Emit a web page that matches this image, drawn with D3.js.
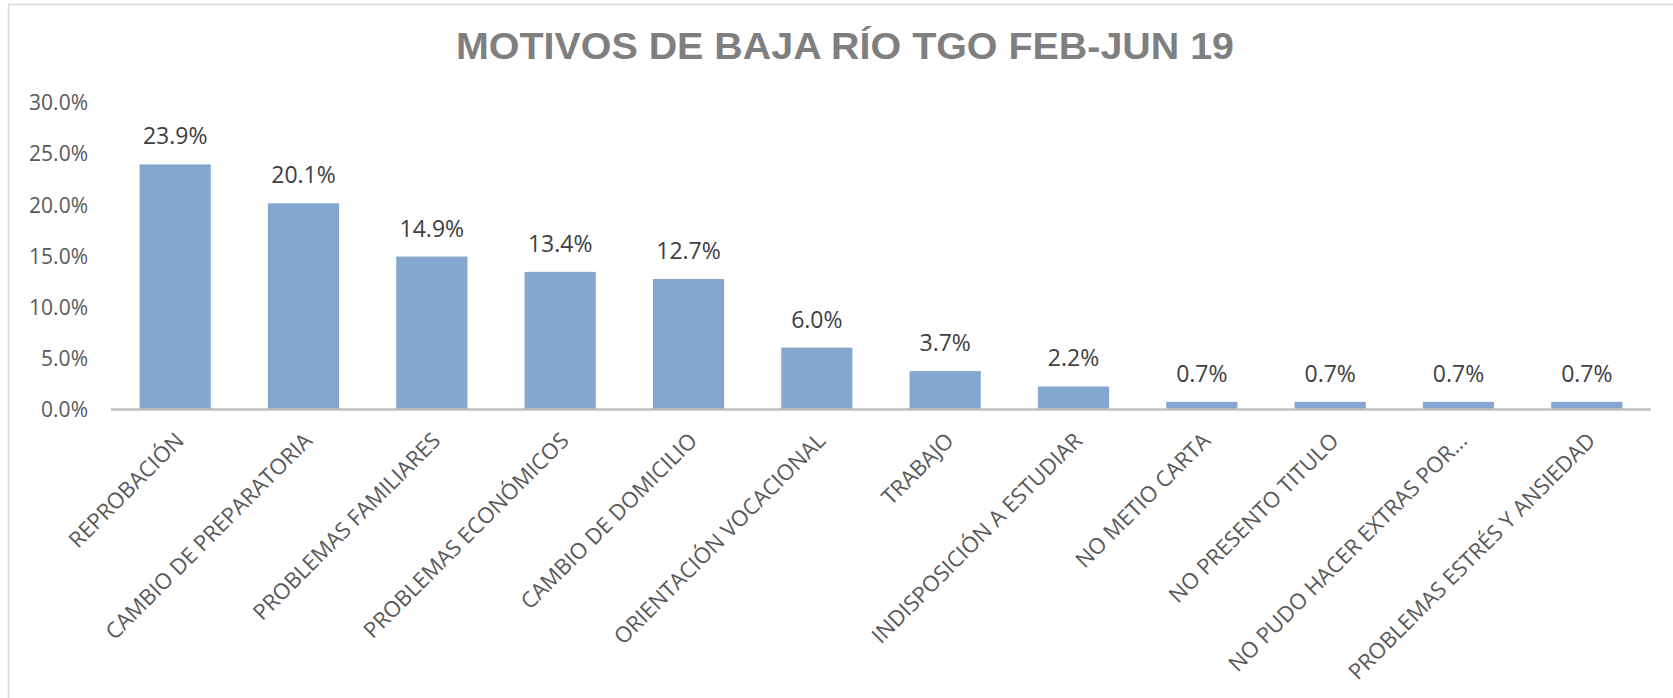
<!DOCTYPE html>
<html lang="es">
   <head>
      <meta charset="UTF-8">
      <title>Motivos de baja</title>
      <script src="https://d3js.org/d3.v7.min.js"></script>
      <style>
         body { margin: 0; background: #fff; }
      </style>
   </head>
   <body>
      <div id="my_dataviz"></div>
      <script>
         var categories = ["REPROBACIÓN", "CAMBIO DE PREPARATORIA", "PROBLEMAS FAMILIARES",
            "PROBLEMAS ECONÓMICOS", "CAMBIO DE DOMICILIO", "ORIENTACIÓN VOCACIONAL", "TRABAJO",
            "INDISPOSICIÓN A ESTUDIAR", "NO METIO CARTA", "NO PRESENTO TITULO",
            "NO PUDO HACER EXTRAS POR...", "PROBLEMAS ESTRÉS Y ANSIEDAD"];
         var values = [23.9, 20.1, 14.9, 13.4, 12.7, 6.0, 3.7, 2.2, 0.7, 0.7, 0.7, 0.7];
         var yTicks = [0, 5, 10, 15, 20, 25, 30];
         var title = "MOTIVOS DE BAJA RÍO TGO FEB-JUN 19";

         var width = 1673, height = 698;

         var svg = d3.select("#my_dataviz")
           .append("svg")
             .attr("width", width)
             .attr("height", height);

         // chart frame (only left and top edges fall inside the picture)
         svg.append("rect")
            .attr("x", 8.5).attr("y", 4.5)
            .attr("width", 1700).attr("height", 800)
            .attr("fill", "none")
            .attr("stroke", "#d9d9d9")
            .attr("stroke-width", 1.5);

         svg.append("text")
            .attr("x", 845)
            .attr("y", 59)
            .attr("text-anchor", "middle")
            .attr("textLength", 778)
            .attr("lengthAdjust", "spacingAndGlyphs")
            .style("font-family", "'Liberation Sans', Arial, sans-serif")
            .style("font-weight", "bold")
            .style("font-size", "36px")
            .style("fill", "#7f7f7f")
            .text(title);

         var x = d3.scaleBand()
            .domain(categories)
            .range([111, 1651])
            .paddingInner(0.445)
            .paddingOuter(0.2225);

         var y = d3.scaleLinear()
            .domain([0, 30])
            .range([409, 102]);

         // y tick labels, no axis line
         var yAxis = svg.append("g")
            .attr("transform", "translate(96,1)")
            .call(d3.axisLeft(y).tickValues(yTicks).tickSize(0).tickPadding(8)
               .tickFormat(function(d) { return d.toFixed(1) + "%"; }));
         yAxis.select(".domain").remove();
         yAxis.selectAll("text")
            .style("font-family", "'Open Sans', sans-serif")
            .style("font-size", "21px")
            .style("fill", "#595959");

         svg.selectAll(".bar")
            .data(values)
            .enter().append("rect")
            .attr("class", "bar")
            .attr("x", function(d, i) { return x(categories[i]); })
            .attr("width", x.bandwidth())
            .attr("y", function(d) { return y(d); })
            .attr("height", function(d) { return y(0) - y(d); })
            .attr("fill", "#84a7cf");

         svg.append("line")
            .attr("x1", 111).attr("x2", 1651)
            .attr("y1", y(0) + 0.5).attr("y2", y(0) + 0.5)
            .attr("stroke", "#bfbfbf")
            .attr("stroke-width", 2.5);

         svg.selectAll(".vlabel")
            .data(values)
            .enter().append("text")
            .attr("class", "vlabel")
            .attr("x", function(d, i) { return x(categories[i]) + x.bandwidth() / 2; })
            .attr("y", function(d) { return y(d) - 20; })
            .attr("text-anchor", "middle")
            .style("font-family", "'Open Sans', sans-serif")
            .style("font-size", "23px")
            .style("fill", "#404040")
            .text(function(d) { return d.toFixed(1) + "%"; });

         svg.selectAll(".clabel")
            .data(categories)
            .enter().append("text")
            .attr("class", "clabel")
            .attr("transform", function(d) {
               return "translate(" + (x(d) + x.bandwidth() / 2 - 1) + ",431)rotate(-45)";
            })
            .attr("dy", "0.71em")
            .attr("text-anchor", "end")
            .style("font-family", "'Open Sans', sans-serif")
            .style("font-size", "22px")
            .style("fill", "#595959")
            .text(function(d) { return d; });
      </script>
   </body>
</html>
